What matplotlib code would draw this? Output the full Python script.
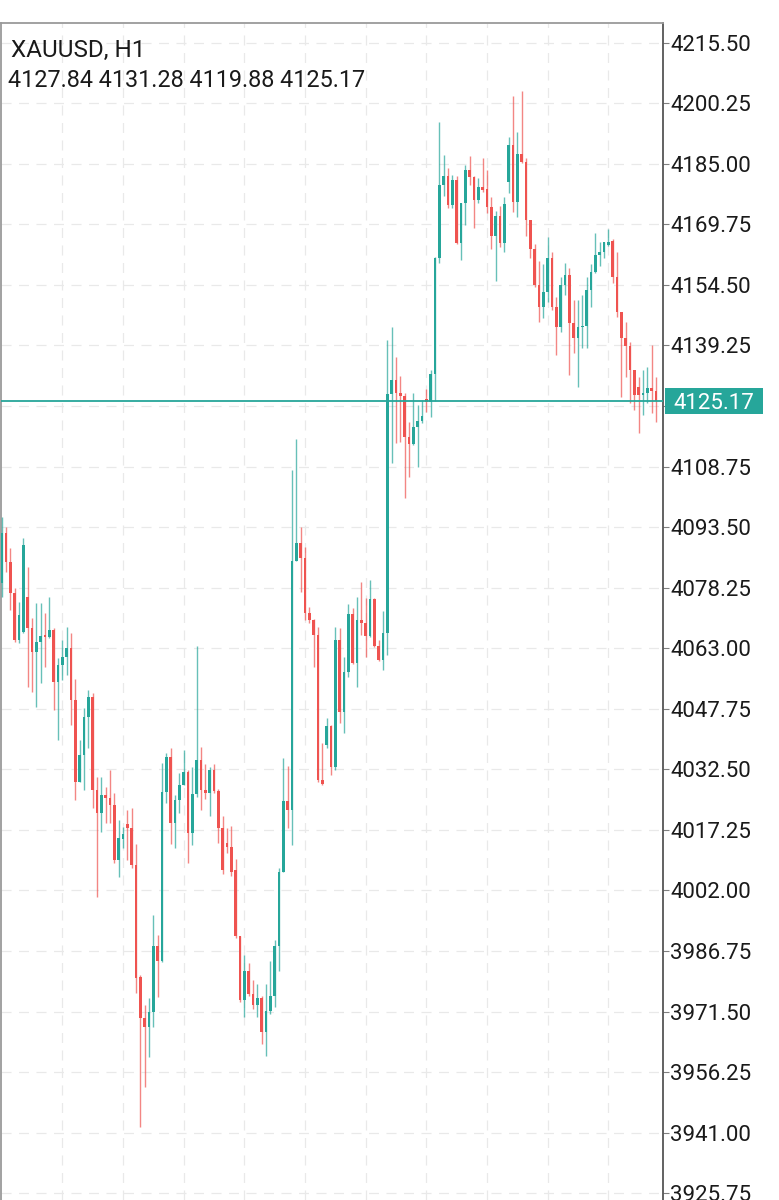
import numpy as np
import matplotlib
matplotlib.use("Agg")
import matplotlib.pyplot as plt
from matplotlib.patches import Rectangle
from matplotlib.transforms import blended_transform_factory

symbol = "XAUUSD, H1"

opens = [
    4079.4, 4092.0, 4084.7, 4076.9, 4065.1, 4067.1, 4075.9, 4068.1, 4062.1, 4064.6,
    4066.3, 4065.8, 4067.6, 4054.5, 4058.8, 4060.8, 4063.1, 4050.0, 4029.3, 4036.1,
    4045.7, 4050.7, 4027.3, 4021.5, 4026.1, 4025.3, 4023.5, 4009.7, 4015.0, 4018.7,
    4017.7, 4008.4, 3980.2, 3969.9, 3967.6, 3971.4, 3988.0, 3984.2, 4026.8, 4035.6,
    4019.0, 4024.8, 4028.6, 4031.8, 4016.5, 4026.3, 4034.9, 4027.3, 4026.6, 4032.3,
    4027.1, 4017.7, 4014.0, 4013.0, 4007.2, 3990.5, 3974.4, 3981.7, 3975.9, 3973.2,
    3974.9, 3966.4, 3971.7, 3975.4, 3988.0, 4006.7, 4024.5, 4022.3, 4085.0, 4089.5,
    4085.7, 4071.9, 4070.1, 4066.3, 4029.8, 4038.6, 4043.4, 4033.1, 4065.1, 4047.0,
    4057.0, 4071.6, 4059.3, 4070.1, 4069.4, 4066.1, 4075.4, 4063.6, 4060.0, 4066.8,
    4127.0, 4130.6, 4127.3, 4126.5, 4116.2, 4114.4, 4118.7, 4120.2, 4125.8, 4125.0,
    4132.1, 4161.3, 4179.7, 4181.9, 4174.6, 4180.9, 4165.1, 4175.1, 4183.4, 4181.7,
    4175.9, 4179.2, 4178.6, 4174.1, 4166.8, 4171.9, 4165.1, 4180.4, 4189.7, 4175.4,
    4187.5, 4185.5, 4170.9, 4163.5, 4154.5, 4148.9, 4152.7, 4161.3, 4148.9, 4143.9,
    4154.5, 4157.0, 4144.9, 4141.1, 4143.9, 4144.1, 4153.2, 4157.8, 4162.0, 4162.8,
    4164.6, 4165.6, 4156.5, 4147.7, 4141.1, 4139.1, 4133.1, 4128.8, 4126.8, 4127.3,
    4128.5, 4127.84,
]
highs = [
    4096.1, 4093.5, 4088.3, 4078.2, 4074.7, 4090.8, 4083.5, 4070.6, 4074.4, 4074.4,
    4071.9, 4075.9, 4068.1, 4060.6, 4065.1, 4068.4, 4066.8, 4055.3, 4039.9, 4048.0,
    4052.5, 4051.7, 4030.6, 4030.6, 4028.1, 4032.3, 4026.6, 4019.8, 4018.0, 4022.3,
    4022.8, 4013.7, 3980.7, 3973.2, 3974.9, 3995.8, 3990.8, 4034.1, 4036.6, 4037.9,
    4026.1, 4031.6, 4037.4, 4032.3, 4033.1, 4063.6, 4038.1, 4033.9, 4033.0, 4033.9,
    4027.6, 4020.8, 4017.7, 4018.2, 4009.9, 3990.5, 3985.8, 3983.7, 3979.5, 3978.5,
    3975.4, 3978.5, 3984.2, 3989.5, 4007.7, 4035.4, 4033.4, 4107.9, 4115.7, 4093.5,
    4088.5, 4073.4, 4070.4, 4068.4, 4039.1, 4045.4, 4043.7, 4068.4, 4068.1, 4060.8,
    4074.1, 4073.1, 4075.9, 4079.7, 4075.7, 4080.2, 4075.7, 4065.1, 4072.4, 4140.6,
    4143.9, 4136.4, 4131.6, 4127.3, 4120.0, 4127.3, 4124.3, 4125.5, 4128.3, 4133.1,
    4161.5, 4195.5, 4187.2, 4183.9, 4182.2, 4181.9, 4175.1, 4184.7, 4187.0, 4181.9,
    4181.4, 4186.5, 4183.4, 4176.6, 4173.1, 4174.4, 4176.6, 4191.8, 4202.1, 4193.0,
    4203.3, 4186.5, 4170.9, 4164.8, 4160.5, 4159.8, 4166.6, 4162.8, 4151.5, 4156.5,
    4160.0, 4158.8, 4150.7, 4150.7, 4152.0, 4156.5, 4159.8, 4167.6, 4165.3, 4165.3,
    4168.6, 4166.1, 4162.8, 4147.7, 4145.2, 4140.1, 4133.1, 4131.3, 4133.1, 4133.8,
    4139.4, 4131.28,
]
lows = [
    4075.9, 4082.2, 4072.6, 4064.5, 4064.3, 4066.8, 4053.2, 4052.0, 4048.2, 4054.3,
    4058.3, 4065.6, 4047.5, 4039.9, 4055.0, 4056.3, 4043.7, 4024.8, 4029.3, 4027.3,
    4037.9, 4022.8, 4000.4, 4016.7, 4019.0, 4019.0, 4009.0, 4005.4, 4012.7, 4009.7,
    4007.7, 3976.2, 3942.4, 3952.5, 3960.1, 3967.6, 3975.2, 3984.0, 4024.0, 4013.7,
    4012.7, 4021.5, 4028.6, 4008.9, 4013.5, 4025.5, 4022.3, 4025.0, 4020.8, 4026.6,
    4014.0, 4006.2, 4011.4, 4005.7, 3990.0, 3973.9, 3970.1, 3975.4, 3972.2, 3970.1,
    3963.3, 3960.3, 3970.9, 3972.7, 3981.7, 4006.7, 4017.7, 4013.5, 4084.9, 4077.2,
    4070.1, 4069.4, 4058.3, 4029.3, 4028.6, 4037.9, 4031.1, 4032.3, 4044.2, 4041.7,
    4055.8, 4059.0, 4053.2, 4066.3, 4060.8, 4065.8, 4063.3, 4059.8, 4057.5, 4061.3,
    4109.7, 4114.7, 4114.9, 4100.8, 4106.1, 4114.2, 4108.7, 4119.7, 4122.5, 4121.2,
    4125.3, 4160.0, 4176.9, 4173.9, 4173.9, 4164.8, 4160.8, 4169.6, 4179.7, 4168.8,
    4175.1, 4177.9, 4172.6, 4163.5, 4155.5, 4164.1, 4162.8, 4177.7, 4172.9, 4171.6,
    4185.2, 4166.8, 4161.3, 4154.0, 4145.2, 4146.2, 4150.2, 4148.2, 4136.9, 4142.6,
    4152.0, 4131.8, 4137.4, 4128.8, 4138.6, 4138.6, 4148.9, 4157.5, 4159.3, 4161.3,
    4164.3, 4155.0, 4146.4, 4126.3, 4131.3, 4124.8, 4123.0, 4117.2, 4121.7, 4124.8,
    4122.2, 4119.88,
]
closes = [
    4092.0, 4084.7, 4076.9, 4065.1, 4071.4, 4089.0, 4068.1, 4062.1, 4064.6, 4066.1,
    4065.8, 4067.6, 4054.5, 4058.8, 4060.8, 4063.1, 4050.0, 4029.3, 4036.1, 4045.7,
    4050.7, 4027.3, 4021.5, 4026.1, 4025.3, 4023.5, 4009.7, 4015.2, 4016.2, 4017.7,
    4008.4, 3980.0, 3969.9, 3967.6, 3971.4, 3988.0, 3984.2, 4026.8, 4035.6, 4019.0,
    4024.8, 4028.6, 4031.8, 4016.5, 4026.3, 4034.9, 4027.3, 4026.6, 4032.3, 4027.1,
    4017.7, 4007.2, 4013.0, 4006.7, 3990.5, 3974.4, 3981.7, 3975.9, 3973.2, 3974.9,
    3966.4, 3971.7, 3975.4, 3988.0, 4006.7, 4024.5, 4022.3, 4085.0, 4089.5, 4085.7,
    4071.9, 4070.1, 4066.3, 4029.8, 4028.8, 4043.4, 4033.1, 4065.1, 4047.0, 4057.0,
    4071.6, 4059.3, 4070.1, 4069.4, 4066.1, 4075.4, 4063.6, 4060.0, 4066.8, 4127.0,
    4130.6, 4127.3, 4126.5, 4116.2, 4114.4, 4118.7, 4120.2, 4121.5, 4125.0, 4132.1,
    4161.3, 4179.7, 4181.9, 4174.6, 4180.9, 4165.1, 4175.1, 4183.4, 4181.7, 4175.9,
    4179.2, 4178.4, 4174.1, 4166.8, 4171.9, 4165.1, 4174.9, 4189.7, 4175.4, 4187.5,
    4185.5, 4170.9, 4163.5, 4154.5, 4148.9, 4152.7, 4161.3, 4148.9, 4143.9, 4154.5,
    4157.0, 4144.9, 4141.1, 4143.9, 4144.1, 4153.2, 4157.8, 4162.0, 4162.8, 4165.3,
    4165.3, 4156.5, 4147.7, 4141.1, 4139.1, 4133.1, 4126.8, 4126.8, 4127.3, 4128.5,
    4127.8, 4125.17,
]

y_ticks = np.arange(3925.75, 4216.0, 15.25)
last_price = closes[-1]

UP = "#26a69a"
DOWN = "#ef5350"
GRID = "#e9e9e9"
FRAME = "#808080"
TEXT = "#1a1a1a"

plt.rcParams["font.family"] = ["Roboto", "DejaVu Sans"]

fig = plt.figure(figsize=(7.79, 12), dpi=100)
ax = fig.add_axes([1 / 779, 0, 661.5 / 779, 1177 / 1200])

o = np.array(opens)
h = np.array(highs)
l = np.array(lows)
c = np.array(closes)
x = np.arange(len(o))
up = c >= o
colors = np.where(up, UP, DOWN)

# wicks
ax.vlines(x, l, h, colors=colors, linewidth=1.0, alpha=0.7, zorder=3)
# bodies
bottoms = np.minimum(o, c)
heights = np.maximum(np.abs(c - o), 0.3)
ax.bar(x, heights, bottom=bottoms, width=0.68, color=colors, linewidth=0, zorder=4)

# grid
for t in y_ticks:
    ax.axhline(t, color=GRID, lw=0.9, ls=(0, (8, 6)), zorder=1)
for gx in range(14, len(o), 14):
    ax.axvline(gx, color=GRID, lw=0.9, ls=(0, (8, 6)), zorder=1)

ax.set_xlim(-0.16, 152.5)
ax.set_ylim(3924.05, 4220.46)

ax.yaxis.tick_right()
ax.set_yticks(y_ticks)
ax.set_yticklabels([f"{t:.2f}" for t in y_ticks])
ax.tick_params(axis="y", which="both", length=4, width=0.8, color=FRAME,
               labelsize=16, labelcolor=TEXT, pad=1.5)
ax.set_xticks([])

for side in ["top", "left"]:
    ax.spines[side].set_color("#9a9a9a")
    ax.spines[side].set_linewidth(1.3)
ax.spines["right"].set_color("#555555")
ax.spines["right"].set_linewidth(1.3)
ax.spines["bottom"].set_visible(False)

# current price line and label
ax.axhline(last_price, color=UP, lw=1.3, zorder=5)
px_per_unit = (1177 / (4220.46 - 3924.05))
box_h = 26 / px_per_unit
trans = blended_transform_factory(fig.transFigure, ax.transData)
fig.patches.append(Rectangle((665 / 779, last_price - box_h / 2), 98 / 779, box_h,
                             transform=trans, facecolor=UP, edgecolor="none", zorder=6))
fig.text(714 / 779, last_price, f"{last_price:.2f}", transform=trans, ha="center",
         va="center_baseline", color="white", fontsize=16, zorder=7)

# header
fig.text(11 / 779, 1 - 57 / 1200, symbol, ha="left", va="baseline",
         fontsize=17.5, color=TEXT)
fig.text(8 / 779, 1 - 87 / 1200,
         " ".join(f"{v:.2f}" for v in (opens[-1], highs[-1], lows[-1], closes[-1])),
         ha="left", va="baseline", fontsize=16.8, color=TEXT)

fig.savefig("out.png", dpi=100, facecolor="white")
